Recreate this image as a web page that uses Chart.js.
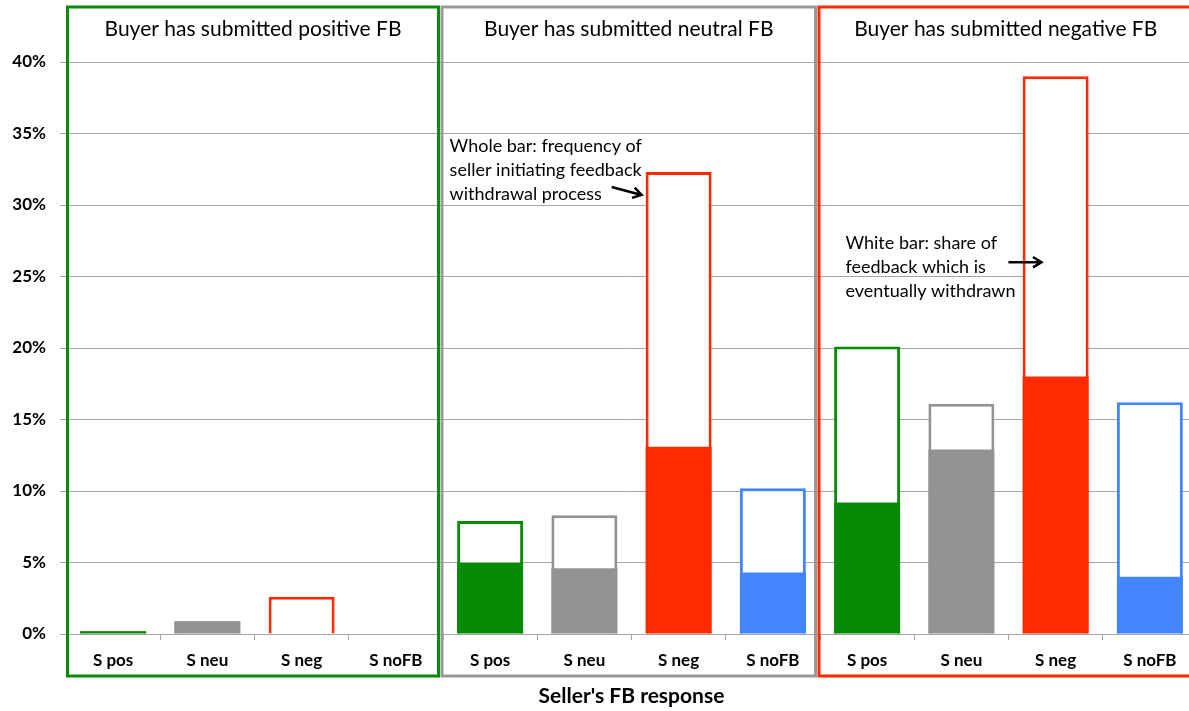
<!DOCTYPE html>
<html>
<head>
<meta charset="utf-8">
<script src="https://cdn.jsdelivr.net/npm/chart.js@4.4.1/dist/chart.umd.min.js"></script>
<style>
  html, body { margin: 0; padding: 0; background: #fff; overflow: hidden; }
  #wrap { width: 1189px; height: 711px; overflow: hidden; }
</style>
</head>
<body>
<div id="wrap"><canvas id="fbChart" width="1200" height="711"></canvas></div>
<script>
const labels = ["S pos", "S neu", "S neg", "S noFB",
                "S pos", "S neu", "S neg", "S noFB",
                "S pos", "S neu", "S neg", "S noFB"];
const groupTitles = ["Buyer has submitted positive FB",
                     "Buyer has submitted neutral FB",
                     "Buyer has submitted negative FB"];
// whole bar = seller initiated withdrawal; kept = part not withdrawn (coloured)
const wholeBar = [0.2, 0.9, 2.6, 0, 7.9, 8.3, 32.3, 10.2, 20.1, 16.1, 39.0, 16.2];
const keptBar  = [0.2, 0.9, 0, 0, 5.0, 4.6, 13.1, 4.3, 9.2, 12.9, 18.0, 4.0];
const yTicks = [0, 5, 10, 15, 20, 25, 30, 35, 40];

const responseColors = ["#078b07", "#929292", "#ff2a00", "#4385fe"];
const boxColors = ["#0a8a0a", "#999999", "#ff2a00"];
const barColors = labels.map((l, i) => responseColors[i % 4]);

const FONT = "Lato, 'Open Sans', sans-serif";

const panelsPlugin = {
  id: "panels",
  afterDraw(chart) {
    const ctx = chart.ctx;
    const x = chart.scales.x;
    const y = chart.scales.y;
    const half = (x.getPixelForValue(1) - x.getPixelForValue(0)) / 2;
    const edge = i => x.getPixelForValue(i) - half;
    ctx.save();
    // group boxes + titles
    for (let g = 0; g < 3; g++) {
      const left = g === 0 ? edge(0) + 1.5 : edge(g * 4) - 1;
      const right = edge(g * 4 + 4) - 4.5;
      ctx.strokeStyle = boxColors[g];
      ctx.lineWidth = 3;
      ctx.strokeRect(left, 7, right - left, 669);
      ctx.fillStyle = "#000";
      ctx.font = "21px " + FONT;
      ctx.textAlign = "center";
      ctx.textBaseline = "middle";
      ctx.fillText(groupTitles[g], (left + right) / 2, 29);
    }
    // notes
    ctx.font = "18px " + FONT;
    ctx.textAlign = "left";
    ctx.fillStyle = "#000";
    const note1 = ["Whole bar: frequency of", "seller initiating feedback", "withdrawal process"];
    const note2 = ["White bar: share of", "feedback which is", "eventually withdrawn"];
    const n1y = [34.13, 32.45, 30.77];
    const n2y = [27.35, 25.66, 23.99];
    note1.forEach((t, i) => ctx.fillText(t, x.getPixelForValue(3.57), y.getPixelForValue(n1y[i])));
    note2.forEach((t, i) => ctx.fillText(t, x.getPixelForValue(7.77), y.getPixelForValue(n2y[i])));

    function arrow(x0, y0, x1, y1) {
      const a = Math.atan2(y1 - y0, x1 - x0);
      ctx.strokeStyle = "#000";
      ctx.lineWidth = 2.5;
      ctx.beginPath();
      ctx.moveTo(x0, y0);
      ctx.lineTo(x1, y1);
      ctx.moveTo(x1 - 10 * Math.cos(a - 0.55), y1 - 10 * Math.sin(a - 0.55));
      ctx.lineTo(x1, y1);
      ctx.lineTo(x1 - 10 * Math.cos(a + 0.55), y1 - 10 * Math.sin(a + 0.55));
      ctx.stroke();
    }
    arrow(x.getPixelForValue(5.29), y.getPixelForValue(31.26), x.getPixelForValue(5.607), y.getPixelForValue(30.7));
    arrow(x.getPixelForValue(9.5), y.getPixelForValue(26.0), x.getPixelForValue(9.85), y.getPixelForValue(26.0));
    ctx.restore();
  }
};

new Chart(document.getElementById("fbChart"), {
  type: "bar",
  data: {
    labels: labels,
    datasets: [
      {
        label: "Kept",
        data: keptBar,
        backgroundColor: barColors,
        borderWidth: 0,
        grouped: false,
        order: 0,
        barPercentage: 0.7,
        categoryPercentage: 1
      },
      {
        label: "Whole",
        data: wholeBar,
        backgroundColor: "#ffffff",
        borderColor: barColors,
        borderWidth: 3,
        borderSkipped: "bottom",
        grouped: false,
        order: 1,
        barPercentage: 0.7,
        categoryPercentage: 1
      }
    ]
  },
  options: {
    responsive: false,
    animation: false,
    layout: { padding: { top: 62, right: 3, left: 0, bottom: 0 } },
    plugins: {
      legend: { display: false },
      tooltip: { enabled: false }
    },
    scales: {
      x: {
        offset: true,
        grid: { display: true, drawOnChartArea: false, tickLength: 6, color: "#a6a6a6", offset: true },
        border: { display: true, color: "#a6a6a6" },
        ticks: {
          autoSkip: false,
          maxRotation: 0,
          padding: 10,
          color: "#000",
          font: { family: FONT, size: 17, weight: "bold" }
        },
        title: {
          display: true,
          text: "Seller's FB response",
          color: "#000",
          font: { family: FONT, size: 21, weight: "bold" },
          padding: { top: 0, bottom: 2 }
        },
        afterFit(scale) { scale.height = 77; }
      },
      y: {
        min: 0,
        max: 40,
        afterBuildTicks(scale) { scale.ticks = yTicks.map(v => ({ value: v })); },
        grid: { color: "#a6a6a6", lineWidth: 1, tickLength: 6 },
        border: { display: false },
        ticks: {
          padding: 14,
          color: "#000",
          font: { family: FONT, size: 17, weight: "bold" },
          callback: v => v + "%"
        },
        afterFit(scale) { scale.width = 66; }
      }
    }
  },
  plugins: [panelsPlugin]
});
</script>
</body>
</html>
